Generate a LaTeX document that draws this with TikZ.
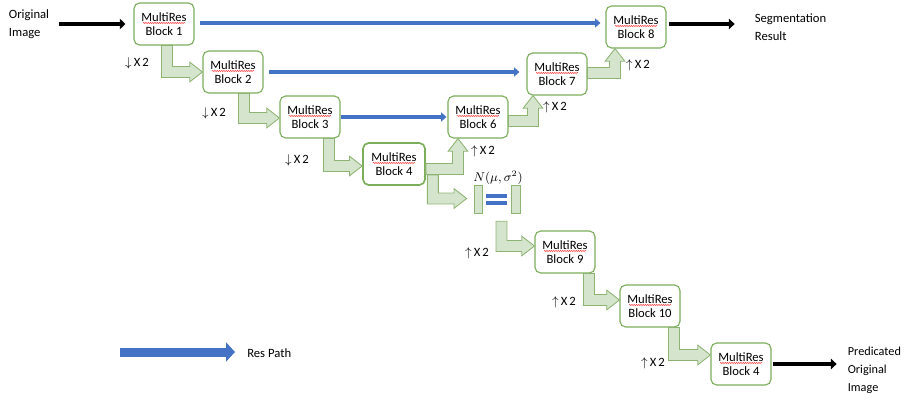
\documentclass[tikz,border=0pt]{standalone}
\usepackage{fontspec}
\setmainfont{Carlito}
\usepackage{tikz}
\usetikzlibrary{arrows.meta,positioning,calc,decorations.pathmorphing}
\definecolor{BoxGreen}{HTML}{7DAE5C}
\definecolor{ArrGreen}{HTML}{8DB472}
\definecolor{ArrFill}{HTML}{D5E4CC}
\definecolor{ResBlue}{HTML}{4472C4}

% half shaft width, half head width, head length of the bent arrows
\newcommand{\gsw}{3.9pt}
\newcommand{\ghw}{7pt}
\newcommand{\ghl}{9pt}

% bent block arrow: down, then right
\newcommand{\downright}[2]{%
  \path[garr] let \p1=(#1), \p2=(#2) in
    (\x1-\gsw,\y1) -- (\x1-\gsw,\y2-\gsw) -- (\x2-\ghl,\y2-\gsw)
    -- (\x2-\ghl,\y2-\ghw) -- (\x2,\y2) -- (\x2-\ghl,\y2+\ghw)
    -- (\x2-\ghl,\y2+\gsw) -- (\x1+\gsw,\y2+\gsw) -- (\x1+\gsw,\y1) -- cycle;}
% bent block arrow: right, then up
\newcommand{\rightup}[2]{%
  \path[garr] let \p1=(#1), \p2=(#2) in
    (\x1,\y1-\gsw) -- (\x2+\gsw,\y1-\gsw) -- (\x2+\gsw,\y2-\ghl)
    -- (\x2+\ghw,\y2-\ghl) -- (\x2,\y2) -- (\x2-\ghw,\y2-\ghl)
    -- (\x2-\gsw,\y2-\ghl) -- (\x2-\gsw,\y1+\gsw) -- (\x1,\y1+\gsw) -- cycle;}

\tikzset{
  % MultiRes block
  blk/.style={rectangle,rounded corners=4pt,draw=BoxGreen,line width=0.8pt,
              fill=white,minimum width=1.5cm,minimum height=1.05cm,
              align=center,inner sep=1pt,font=\fontsize{9}{10.4}\selectfont},
  % outer texts
  lbl/.style={align=left,inner sep=0pt,font=\fontsize{9}{12.8}\selectfont},
  scl/.style={inner sep=0pt,font=\fontsize{9}{10}\selectfont},
  % arrows
  garr/.style={draw=ArrGreen,fill=ArrFill,line width=0.6pt,line join=miter},
  res/.style={ResBlue,line width=2.8pt,-{Triangle[length=3.8pt,width=6.4pt]}},
  outarr/.style={black,line width=2.8pt,-{Triangle[length=4pt,width=7.4pt]}},
  legarr/.style={ResBlue,line width=6.4pt,-{Triangle[length=6.4pt,width=13.5pt]}},
  % latent block
  nbar/.style={rectangle,draw=ArrGreen,fill=ArrFill,line width=0.6pt,
               minimum width=0.22cm,minimum height=0.72cm,inner sep=0pt},
  eq/.style={ResBlue,line width=2.6pt},
  wavy/.style={red,line width=0.3pt,decorate,
               decoration={snake,amplitude=0.35pt,segment length=1.6pt}}
}

\begin{document}
\begin{tikzpicture}[x=0.025cm,y=-0.025cm]
  \useasboundingbox (0,0) rectangle (904,394);

  %------ ENCODER ------
  \node[blk] (b1) at (164,24)  {MultiRes\\Block 1};
  \node[blk] (b2) at (233,72)  {MultiRes\\Block 2};
  \node[blk] (b3) at (310,117) {MultiRes\\Block 3};
  \node[blk,line width=1.2pt,minimum width=1.55cm] (b4) at (394,164) {MultiRes\\Block 4};

  %------ DECODER ------
  \node[blk] (b6) at (478,117) {MultiRes\\Block 6};
  \node[blk] (b7) at (557,74)  {MultiRes\\Block 7};
  \node[blk] (b8) at (636,27)  {MultiRes\\Block 8};

  %------ RECONSTRUCTION ------
  \node[blk] (b9)  at (565,252) {MultiRes\\Block 9};
  \node[blk] (b10) at (650,306) {MultiRes\\Block 10};
  \node[blk] (bf)  at (741,364) {MultiRes\\Block 4};

  % latent
  \node[nbar] (nl) at (478.5,199.5) {};
  \node[nbar] (nr) at (516,199.5) {};
  \node[scl] (nlab) at (498,178) {$N(\mu,\sigma^2)$};
  \draw[eq] ($(nl.east)+(3,-3.5)$) -- ($(nr.west)+(-4,-3.5)$);
  \draw[eq] ($(nl.east)+(3,3.5)$) -- ($(nr.west)+(-4,3.5)$);

  % in / out texts
  \node[lbl,left=2.1cm of b1]  (orig) {Original\\Image};
  \node[lbl,right=2.2cm of b8]  (seg)  {Segmentation\\Result};
  \node[lbl,right=1.9cm of bf,yshift=-0.15cm,font=\fontsize{8.7}{12.8}\selectfont]
    (pred) {Predicated\\Original\\Image};

  % legend
  \coordinate (legS) at (120,352);
  \node[lbl,anchor=west] (respath) at (247,353) {Res Path};
  \draw[legarr] (legS) -- ($(respath.west)+(-12,-1)$);

  % res paths
  \draw[res] ($(b1.east)+(5,-1)$) -- ($(b1.east -| b8.west)+(-5,-1)$);
  \draw[res] ($(b2.east)+(5,0)$) -- ($(b2.east -| b7.west)+(-7,0)$);
  \draw[res] (b3.east) -- ($(b3.east -| b6.west)+(-1,0)$);

  % in / out arrows
  \draw[outarr] ($(orig.east)+(10,0)$) -- ($(b1.west)+(-8,0)$);
  \draw[outarr] ($(b8.east)+(2,-3)$) -- ($(seg.west)+(-20,-3)$);
  \draw[outarr] ($(bf.east)+(1,0)$) -- ($(bf.east -| pred.west)+(-11,0)$);

  % down-sampling
  \downright{$(b1.south)+(3,0)$}{b2.west}
  \downright{$(b2.south)+(11,0)$}{$(b3.west)+(0,1)$}
  \downright{$(b3.south)+(19,0)$}{$(b4.west)+(0,2)$}

  % up-sampling
  \downright{$(b4.east)+(7,11)$}{$(nl.west)+(-7,-1)$}
  \rightup{$(b4.east)+(0,5)$}{$(b6.south)+(-20,0)$}
  \rightup{$(b6.east)+(0,4)$}{$(b7.south)+(-24,0)$}
  \rightup{$(b7.east)+(0,-1)$}{$(b8.south)+(-21,0)$}
  \downright{$(nl.south)+(23,7)$}{$(b9.west)+(0,-6)$}
  \downright{$(b9.south)+(24,0)$}{$(b10.west)+(0,-6)$}
  \downright{$(b10.south)+(24,0)$}{$(bf.west)+(0,-9)$}

  % scale labels
  \node[scl] (d1) at (137,63)  {$\downarrow$\,X\,2};
  \node[scl] (d2) at (214,113) {$\downarrow$\,X\,2};
  \node[scl] (d3) at (297,160) {$\downarrow$\,X\,2};
  \node[scl] (u6) at (483,151) {$\uparrow$\,X\,2};
  \node[scl] (u7) at (555,107) {$\uparrow$\,X\,2};
  \node[scl] (u8) at (638,65)  {$\uparrow$\,X\,2};
  \node[scl] (u9) at (477,253) {$\uparrow$\,X\,2};
  \node[scl] (u10) at (564,302) {$\uparrow$\,X\,2};
  \node[scl] (uf) at (653,363) {$\uparrow$\,X\,2};

  % spell-check marks
  \foreach \b in {b1,b2,b3,b4,b6,b7,b8,b9,b10,bf}
    \draw[wavy] ($(\b.center)+(-21,-1)$) -- ++(42,0);
\end{tikzpicture}
\end{document}
